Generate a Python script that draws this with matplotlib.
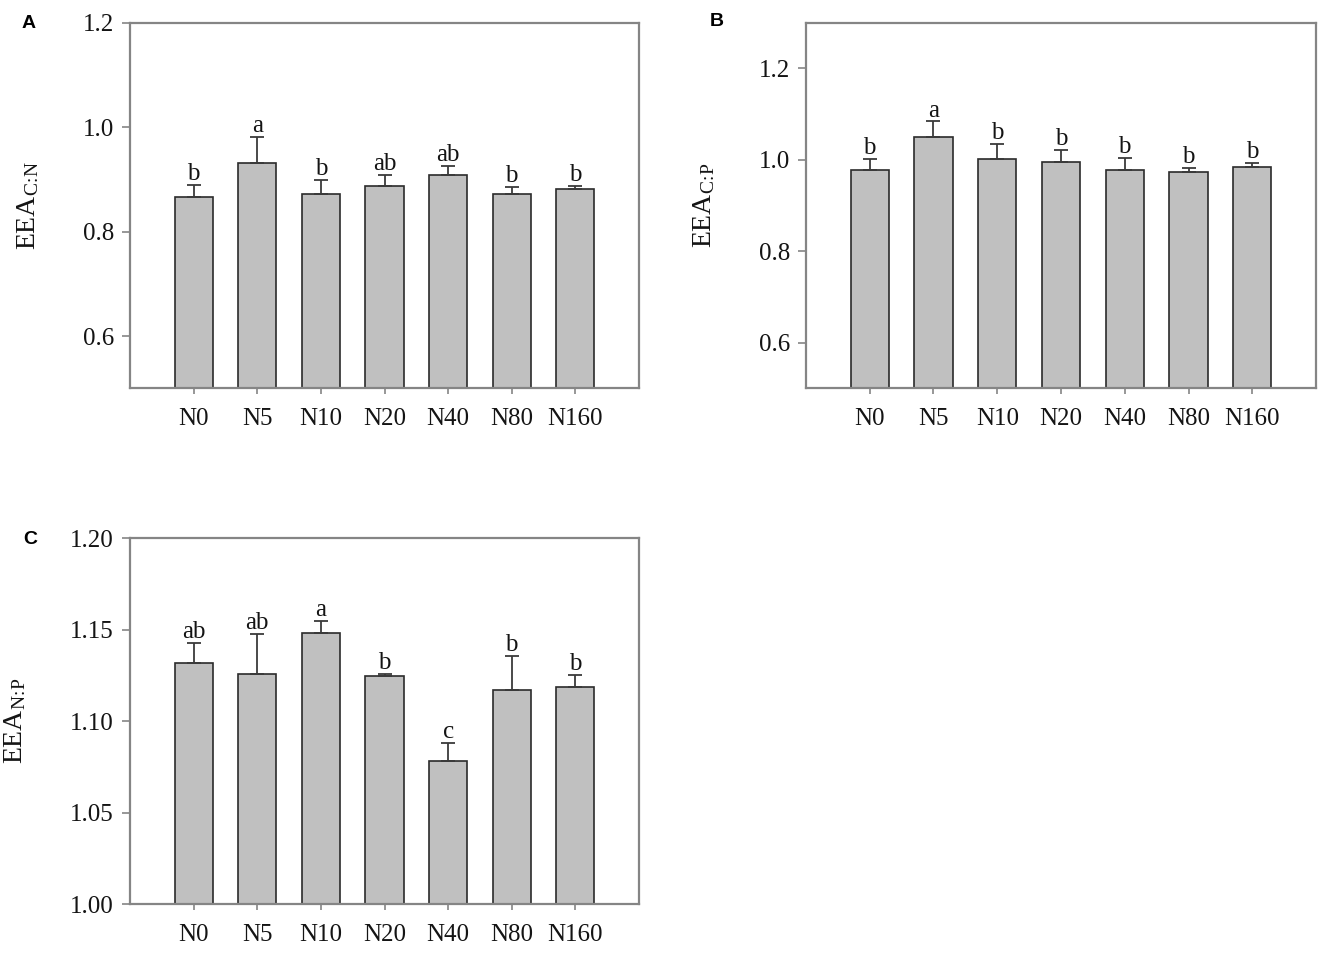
import matplotlib
matplotlib.use("Agg")
import matplotlib.pyplot as plt
import numpy as np

plt.rcParams["font.family"] = ["Liberation Serif", "DejaVu Serif"]
plt.rcParams["mathtext.fontset"] = "custom"
plt.rcParams["mathtext.rm"] = "Liberation Serif"
plt.rcParams["mathtext.it"] = "Liberation Serif:italic"

# ── data ─────────────────────────────────────────────
treatments = ["N0", "N5", "N10", "N20", "N40", "N80", "N160"]

cn_mean = [0.866, 0.932, 0.872, 0.887, 0.909, 0.872, 0.882]
cn_err = [0.024, 0.049, 0.027, 0.022, 0.017, 0.014, 0.006]
cn_sig = ["b", "a", "b", "ab", "ab", "b", "b"]

cp_mean = [0.978, 1.049, 1.001, 0.996, 0.978, 0.974, 0.985]
cp_err = [0.024, 0.035, 0.033, 0.025, 0.027, 0.009, 0.009]
cp_sig = ["b", "a", "b", "b", "b", "b", "b"]

np_mean = [1.132, 1.126, 1.148, 1.1245, 1.078, 1.117, 1.1185]
np_err = [0.0107, 0.0215, 0.0067, 0.0015, 0.0103, 0.0184, 0.0066]
np_sig = ["ab", "ab", "a", "b", "c", "b", "b"]

BAR_COLOR = "#c0c0c0"
EDGE = "#2b2b2b"
SPINE = "#858585"
TXT = "#141414"

W, H = 1325, 959
fig = plt.figure(figsize=(W / 100, H / 100), dpi=100)


def px_axes(left, top, right, bottom):
    return fig.add_axes([left / W, 1 - bottom / H, (right - left) / W, (bottom - top) / H])


def panel(ax, means, errs, sigs, ylim, yticks, yfmt, ylabel, label_x, letter, letter_xy):
    x = np.arange(len(treatments))
    base = ylim[0]
    heights = [m - base for m in means]
    ax.bar(x, heights, bottom=base, width=0.6, color=BAR_COLOR,
           edgecolor=EDGE, linewidth=1.2, zorder=2)
    ax.errorbar(x, means, yerr=[np.zeros(len(errs)), errs], fmt="none",
                ecolor="#3a3a3a", elinewidth=1.3, capsize=5, capthick=1.3, zorder=3)
    for xi, m, e, s in zip(x, means, errs, sigs):
        ax.annotate(s, (xi, m + e), xytext=(0, 3.5), textcoords="offset points",
                    ha="center", va="baseline", fontsize=18, color=TXT)
    ax.set_xlim(-1, 7)
    ax.set_ylim(*ylim)
    ax.set_xticks(x)
    ax.set_xticklabels(treatments)
    ax.set_yticks(yticks)
    ax.set_yticklabels([yfmt.format(v) for v in yticks])
    for sp in ax.spines.values():
        sp.set_color(SPINE)
        sp.set_linewidth(1.6)
    ax.tick_params(axis="y", direction="out", length=5.5, width=1.2, color=SPINE,
                   labelsize=18, pad=6, labelcolor=TXT)
    ax.tick_params(axis="x", direction="out", length=4, width=1.2, color=SPINE,
                   labelsize=18, pad=10, labelcolor=TXT)
    ax.set_ylabel(ylabel, fontsize=20, color=TXT)
    ax.yaxis.set_label_coords(label_x, 0.5)
    fig.text(letter_xy[0] / W, 1 - letter_xy[1] / H, letter, fontsize=14,
             fontweight="bold", family="Liberation Sans", ha="center", va="center")


axA = px_axes(130, 22.7, 639, 388.3)
panel(axA, cn_mean, cn_err, cn_sig, (0.5, 1.2), [0.6, 0.8, 1.0, 1.2], "{:.1f}",
      r"EEA$_{\mathrm{C\!:\!N}}$", -0.175, "A", (29, 24))

axB = px_axes(806, 22.7, 1316, 388.3)
panel(axB, cp_mean, cp_err, cp_sig, (0.5, 1.3), [0.6, 0.8, 1.0, 1.2], "{:.1f}",
      r"EEA$_{\mathrm{C\!:\!P}}$", -0.175, "B", (717, 22))

axC = px_axes(130, 538, 639, 904.3)
panel(axC, np_mean, np_err, np_sig, (1.0, 1.2), [1.00, 1.05, 1.10, 1.15, 1.20], "{:.2f}",
      r"EEA$_{\mathrm{N\!:\!P}}$", -0.2, "C", (30, 539))

fig.savefig("out.png", dpi=100, facecolor="white")
